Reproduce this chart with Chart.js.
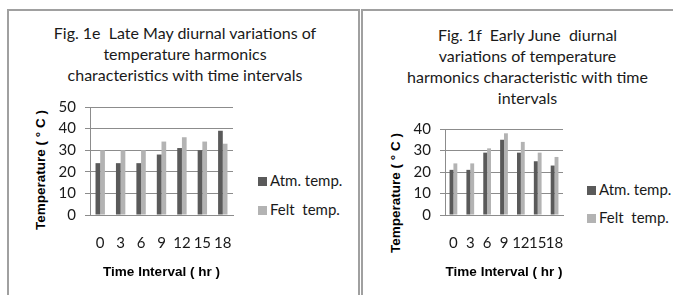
<!DOCTYPE html>
<html><head><meta charset="utf-8">
<script src="https://cdn.jsdelivr.net/npm/chart.js@4"></script>
<style>
html,body{margin:0;padding:0;background:#fff;width:673px;height:295px;overflow:hidden;}
.panel{position:absolute;border:2px solid #a0a0a0;border-bottom:none;box-sizing:border-box;}
.ttl{position:absolute;font-family:Lato,"Open Sans",sans-serif;font-size:16px;line-height:21px;color:#1a1a1a;text-align:center;white-space:nowrap;}
.lg{position:absolute;font-family:Lato,"Open Sans",sans-serif;font-size:15px;color:#1a1a1a;white-space:pre;}
.sw{display:inline-block;width:9px;height:9px;margin-right:3px;vertical-align:0px;}
.yt{position:absolute;font-family:"Liberation Sans",Arial,sans-serif;font-weight:bold;font-size:13.5px;color:#000;white-space:pre;transform:translate(-50%,-50%) rotate(-90deg);}
canvas{position:absolute;}
</style></head><body>
<div class="panel" style="left:7px;top:9px;width:353px;height:290px;"></div>
<div class="panel" style="left:361px;top:9px;width:320px;height:290px;"></div>
<div class="ttl" style="left:20px;top:22px;width:330px;">Fig. 1e&nbsp; Late May diurnal variations of<br>temperature harmonics<br>characteristics with time intervals</div>
<div class="ttl" style="left:380px;top:24px;width:295px;">Fig. 1f&nbsp; Early June&nbsp; diurnal<br>variations of temperature<br>harmonics characteristic with time<br>intervals</div>
<div class="lg" style="left:258px;top:171px;"><span class="sw" style="background:#5a5a5a"></span>Atm. temp.</div>
<div class="lg" style="left:258px;top:200px;"><span class="sw" style="background:#b3b3b3"></span>Felt&nbsp; temp.</div>
<div class="lg" style="left:587px;top:180px;"><span class="sw" style="background:#5a5a5a"></span>Atm. temp.</div>
<div class="lg" style="left:587px;top:208px;"><span class="sw" style="background:#b3b3b3"></span>Felt&nbsp; temp.</div>
<div class="yt" style="left:40px;top:170px;">Temperature ( ° C )</div>
<div class="yt" style="left:395px;top:193px;">Temperature ( ° C )</div>
<canvas id="c1" width="350" height="285" style="left:8px;top:10px;"></canvas>
<canvas id="c2" width="311" height="285" style="left:362px;top:10px;"></canvas>
<script>
const timeIntervals = ["0","3","6","9","12","15","18"];
const lateMayAtm = [24,24,24,28,31,30,39];
const lateMayFelt = [30,30,30,34,36,34,33];
const earlyJuneAtm = [21,21,29,35,29,25,23];
const earlyJuneFelt = [24,24,31,38,34,29,27];
const lateMayTicks = [0,10,20,30,40,50];
const earlyJuneTicks = [0,10,20,30,40];

function makeChart(id, atm, felt, yMax, majorTicks, pad, yW, xH){
  new Chart(document.getElementById(id), {
    type:'bar',
    data:{labels:timeIntervals, datasets:[
      {label:'Atm. temp.', data:atm, backgroundColor:'#5a5a5a', categoryPercentage:0.46, barPercentage:1},
      {label:'Felt  temp.', data:felt, backgroundColor:'#b3b3b3', categoryPercentage:0.46, barPercentage:1}
    ]},
    options:{
      responsive:false, animation:false,
      layout:{padding:pad},
      plugins:{legend:{display:false}, title:{display:false}, tooltip:{enabled:false}},
      scales:{
        x:{
          grid:{display:false, drawTicks:false},
          border:{display:true, color:'#8c8c8c', width:1},
          ticks:{padding:19, color:'#1a1a1a', font:{family:'Lato', size:15}, maxRotation:0, autoSkip:false},
          title:{display:true, text:'Time Interval ( hr )', color:'#000', font:{family:'Liberation Sans', size:13.5, weight:'bold'}, padding:{top:0,bottom:0}},
          afterFit(s){ s.height = xH; }
        },
        y:{
          min:0, max:yMax,
          ticks:{stepSize:2, padding:9, color:'#1a1a1a', font:{family:'Lato', size:15},
            callback:(v)=> majorTicks.includes(v) ? String(v) : ''},
          grid:{
            color:(c)=> (c.tick && c.tick.value % 10 === 0) ? '#8c8c8c' : '#d0d0d0',
            tickColor:(c)=> (c.tick && c.tick.value % 10 === 0) ? '#8c8c8c' : 'rgba(0,0,0,0)',
            tickLength:5
          },
          border:{display:true, color:'#8c8c8c'},
          title:{display:false},
          afterFit(s){ s.width = yW; }
        }
      }
    }
  });
}
makeChart('c1', lateMayAtm, lateMayFelt, 50, lateMayTicks, {left:22, top:97, right:125, bottom:15}, 60, 65);
makeChart('c2', earlyJuneAtm, earlyJuneFelt, 40, earlyJuneTicks, {left:22, top:119, right:110, bottom:15}, 61, 65);
</script>
</body></html>
